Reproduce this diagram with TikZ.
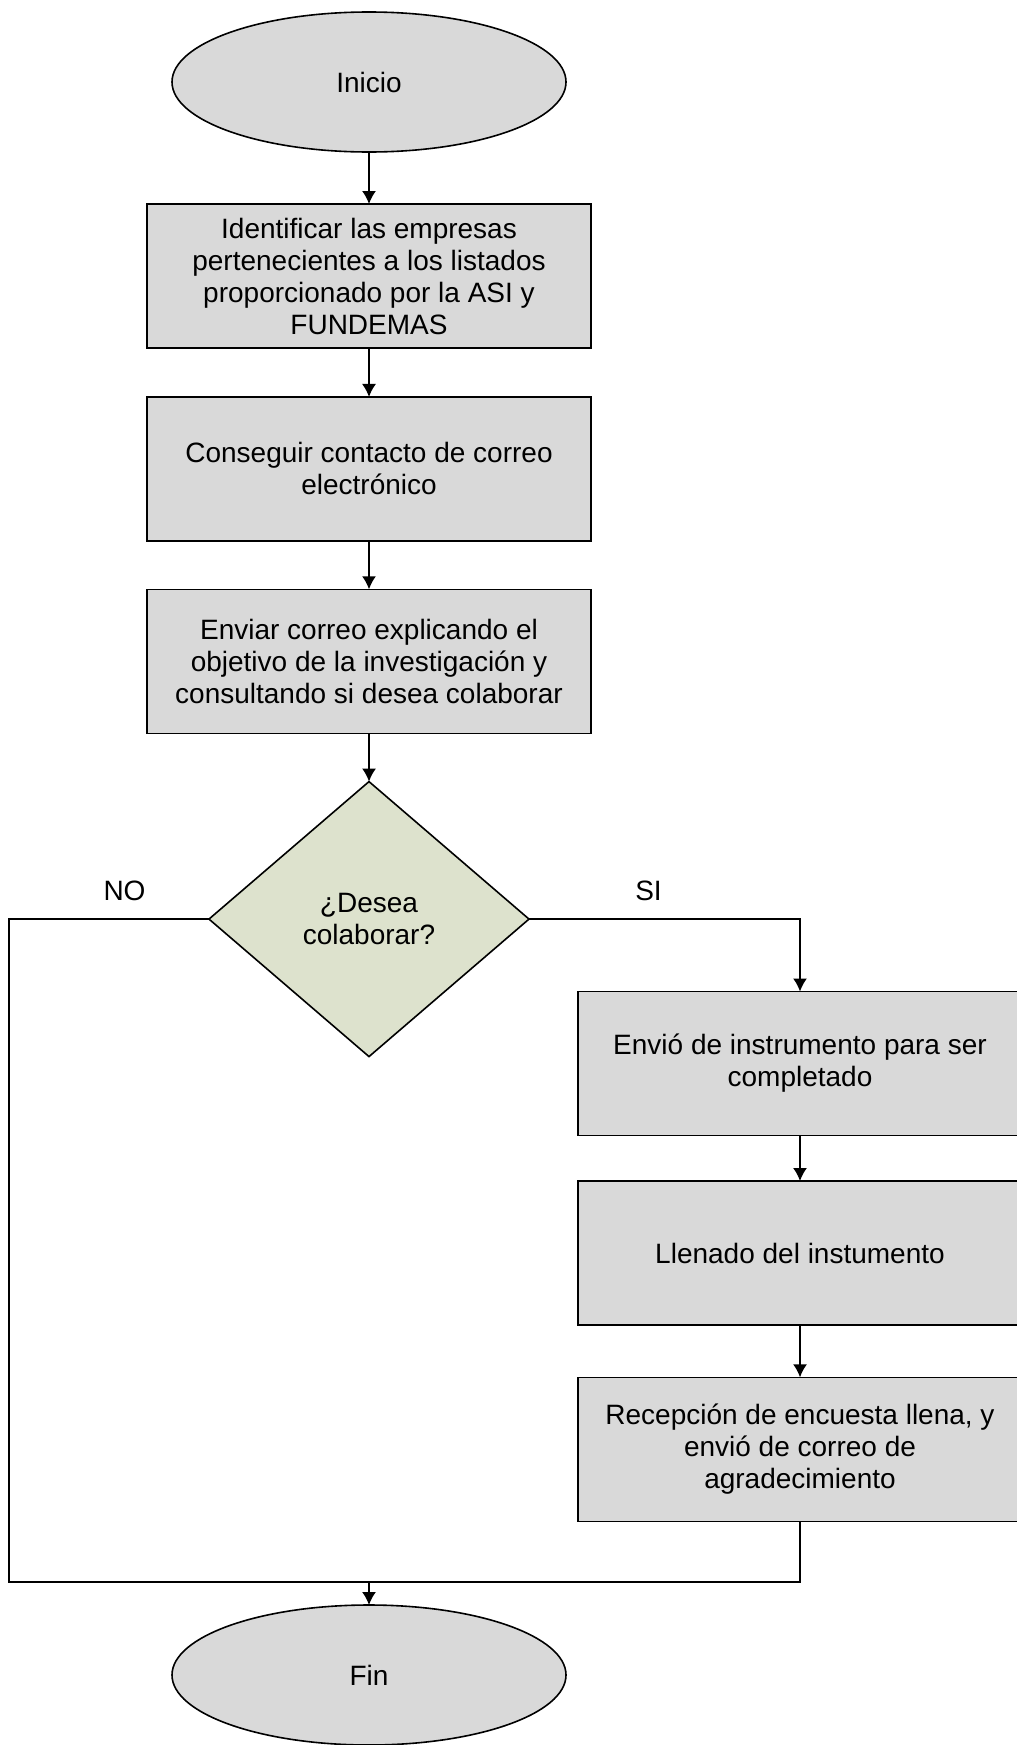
\documentclass[tikz,border=0pt]{standalone}
\usepackage{fontspec}
\setmainfont{Liberation Sans}
\usepackage{tikz}
\usetikzlibrary{shapes.geometric, arrows.meta, positioning, calc}
\definecolor{boxgray}{HTML}{D9D9D9}
\definecolor{decgreen}{HTML}{DDE2CD}

\begin{document}
\begin{tikzpicture}[x=0.5pt, y=-0.5pt, >={Latex[length=6.5pt,width=7pt]}]
    \tikzstyle{terminal} = [ellipse, draw=black, fill=boxgray, line width=0.8pt, minimum width=197pt, minimum height=70pt, inner sep=0pt, outer sep=0pt, font=\fontsize{14}{16}\selectfont]
    \tikzstyle{box} = [rectangle, draw=black, fill=boxgray, line width=0.8pt, minimum width=222pt, minimum height=72pt, align=center, outer sep=0pt, font=\fontsize{14}{16}\selectfont]
    \tikzstyle{decision} = [diamond, draw=black, fill=decgreen, line width=0.8pt, minimum width=160pt, minimum height=137.5pt, inner sep=0pt, outer sep=0pt, align=center, font=\fontsize{14}{16}\selectfont]
    \tikzstyle{tag} = [font=\fontsize{14}{16}\selectfont]
    \tikzstyle{arrow} = [line width=0.8pt, ->]
    \tikzstyle{line} = [line width=0.8pt]

    \useasboundingbox (0,0) rectangle (1017,1745);

    \node (inicio) [terminal] at (369,82) {Inicio};
    \node (step1) [box, below of=inicio, node distance=3.41cm] {Identificar las empresas\\ pertenecientes a los listados\\ proporcionado por la ASI y\\ FUNDEMAS};
    \node (step2) [box, below of=step1, node distance=3.39cm] {Conseguir contacto de correo\\ electrónico};
    \node (step3) [box, below of=step2, node distance=3.38cm] {Enviar correo explicando el\\ objetivo de la investigación y\\ consultando si desea colaborar};
    \node (desea) [decision, below of=step3, node distance=4.53cm] {¿Desea\\ colaborar?};

    \node (step4) [box] at (800,1063.5) {Envió de instrumento para ser\\ completado};
    \node (step5) [box, below of=step4, node distance=3.33cm] {Llenado del instumento};
    \node (step6) [box, below of=step5, node distance=3.45cm] {Recepción de encuesta llena, y\\ envió de correo de\\ agradecimiento};

    \node (fin) [terminal] at (369,1675) {Fin};

    \node (no) [tag] at (124.5,891) {NO};
    \node (si) [tag] at (648.5,891) {SI};

    \coordinate (nocorner) at (9,1582);
    \coordinate (join) at (369,1582);

    \draw [arrow] (inicio) -- (step1);
    \draw [arrow] (step1) -- (step2);
    \draw [arrow] (step2) -- (step3);
    \draw [arrow] (step3) -- (desea);
    \draw [arrow] (desea.east) -| (step4.north);
    \draw [arrow] (step4) -- (step5);
    \draw [arrow] (step5) -- (step6);
    \draw [line] (desea.west) -| (nocorner) -- (join);
    \draw [line] (step6.south) |- (join);
    \draw [arrow] (join) -- (fin);
\end{tikzpicture}
\end{document}
